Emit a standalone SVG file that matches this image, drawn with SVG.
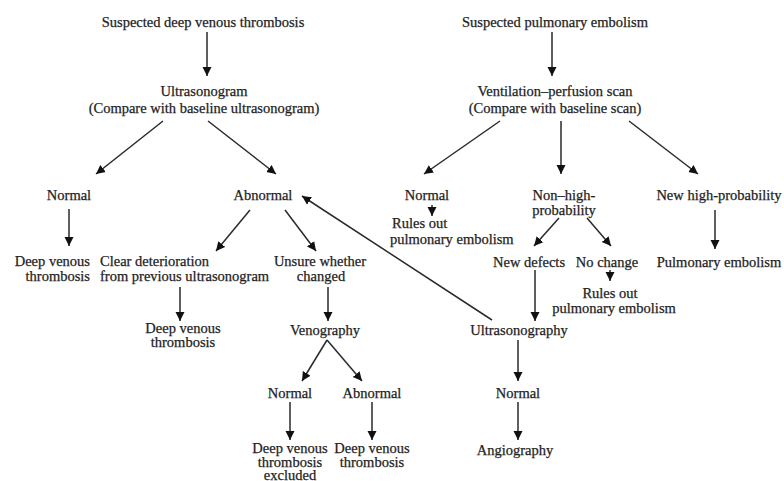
<svg xmlns="http://www.w3.org/2000/svg" width="784" height="481" viewBox="0 0 784 481">
<style>
text{font-family:"Liberation Serif","Times New Roman",serif;font-size:14.5px;fill:#1e1e1e;stroke:#1e1e1e;stroke-width:0.25;text-anchor:middle}
.s{text-anchor:start}
.e{text-anchor:end}
line{stroke:#2a2a2a;stroke-width:1.5;marker-end:url(#ah)}
</style>
<defs>
<marker id="ah" viewBox="0 0 10 10" refX="10" refY="5" markerWidth="9" markerHeight="11" markerUnits="userSpaceOnUse" orient="auto">
<path d="M0,0 L10,5 L0,10 z" fill="#111"/>
</marker>
</defs>
<rect width="784" height="481" fill="#fff"/>
<g id="connectors">
<line x1="207" y1="32" x2="207" y2="76"/>
<line x1="163" y1="121" x2="96" y2="174"/>
<line x1="208" y1="121" x2="276" y2="174"/>
<line x1="69" y1="209" x2="69" y2="246"/>
<line x1="250" y1="210" x2="216" y2="251"/>
<line x1="285" y1="210" x2="316" y2="251"/>
<line x1="492" y1="320" x2="302" y2="196"/>
<line x1="180" y1="287" x2="180" y2="321"/>
<line x1="328" y1="287" x2="328" y2="321"/>
<line x1="327" y1="340" x2="302" y2="381"/>
<line x1="327" y1="340" x2="362" y2="381"/>
<line x1="290" y1="402" x2="290" y2="440"/>
<line x1="372" y1="402" x2="372" y2="440"/>
<line x1="552" y1="32" x2="552" y2="76"/>
<line x1="500" y1="121" x2="424" y2="174"/>
<line x1="561" y1="121" x2="561" y2="174"/>
<line x1="629" y1="121" x2="698" y2="174"/>
<line x1="432" y1="205" x2="432" y2="216"/>
<line x1="559" y1="218" x2="534" y2="246"/>
<line x1="587" y1="218" x2="611" y2="246"/>
<line x1="715" y1="210" x2="715" y2="249"/>
<line x1="610" y1="270" x2="610" y2="281"/>
<line x1="535" y1="270" x2="535" y2="321"/>
<line x1="518" y1="340" x2="518" y2="381"/>
<line x1="518" y1="402" x2="518" y2="440"/>
</g>
<g id="n-sdvt"><text x="203" y="27">Suspected deep venous thrombosis</text></g>
<g id="n-us"><text x="204" y="96">Ultrasonogram</text><text x="204" y="113">(Compare with baseline ultrasonogram)</text></g>
<g id="n-normal1"><text x="69" y="200">Normal</text></g>
<g id="n-abnormal1"><text x="263" y="200">Abnormal</text></g>
<g id="n-dvt1"><text class="e" x="90" y="266">Deep venous</text><text class="e" x="90" y="281">thrombosis</text></g>
<g id="n-clear"><text class="s" x="100" y="266">Clear deterioration</text><text class="s" x="100" y="281">from previous ultrasonogram</text></g>
<g id="n-unsure"><text x="320" y="266">Unsure whether</text><text x="321" y="281">changed</text></g>
<g id="n-dvt2"><text x="183" y="333">Deep venous</text><text x="183" y="347">thrombosis</text></g>
<g id="n-veno"><text x="325" y="335">Venography</text></g>
<g id="n-normal2"><text x="290" y="398">Normal</text></g>
<g id="n-abnormal2"><text x="372" y="398">Abnormal</text></g>
<g id="n-dvtex"><text x="290" y="453">Deep venous</text><text x="290" y="467">thrombosis</text><text x="290" y="480">excluded</text></g>
<g id="n-dvt3"><text x="372" y="453">Deep venous</text><text x="372" y="467">thrombosis</text></g>
<g id="n-spe"><text x="555" y="27">Suspected pulmonary embolism</text></g>
<g id="n-vq"><text x="555" y="96">Ventilation–perfusion scan</text><text x="555" y="113">(Compare with baseline scan)</text></g>
<g id="n-normal3"><text x="427" y="200">Normal</text></g>
<g id="n-rules1"><text class="s" x="392" y="228">Rules out</text><text class="s" x="390" y="244">pulmonary embolism</text></g>
<g id="n-nonhigh"><text x="564" y="200">Non–high-</text><text x="564" y="215">probability</text></g>
<g id="n-newhigh"><text x="719" y="200">New high-probability</text></g>
<g id="n-newdef"><text x="529" y="267">New defects</text></g>
<g id="n-nochange"><text x="607" y="267">No change</text></g>
<g id="n-rules2"><text x="610" y="298">Rules out</text><text x="614" y="313">pulmonary embolism</text></g>
<g id="n-pe"><text x="719" y="267">Pulmonary embolism</text></g>
<g id="n-usg"><text x="519" y="335">Ultrasonography</text></g>
<g id="n-normal4"><text x="518" y="398">Normal</text></g>
<g id="n-angio"><text x="515" y="455">Angiography</text></g>
</svg>
